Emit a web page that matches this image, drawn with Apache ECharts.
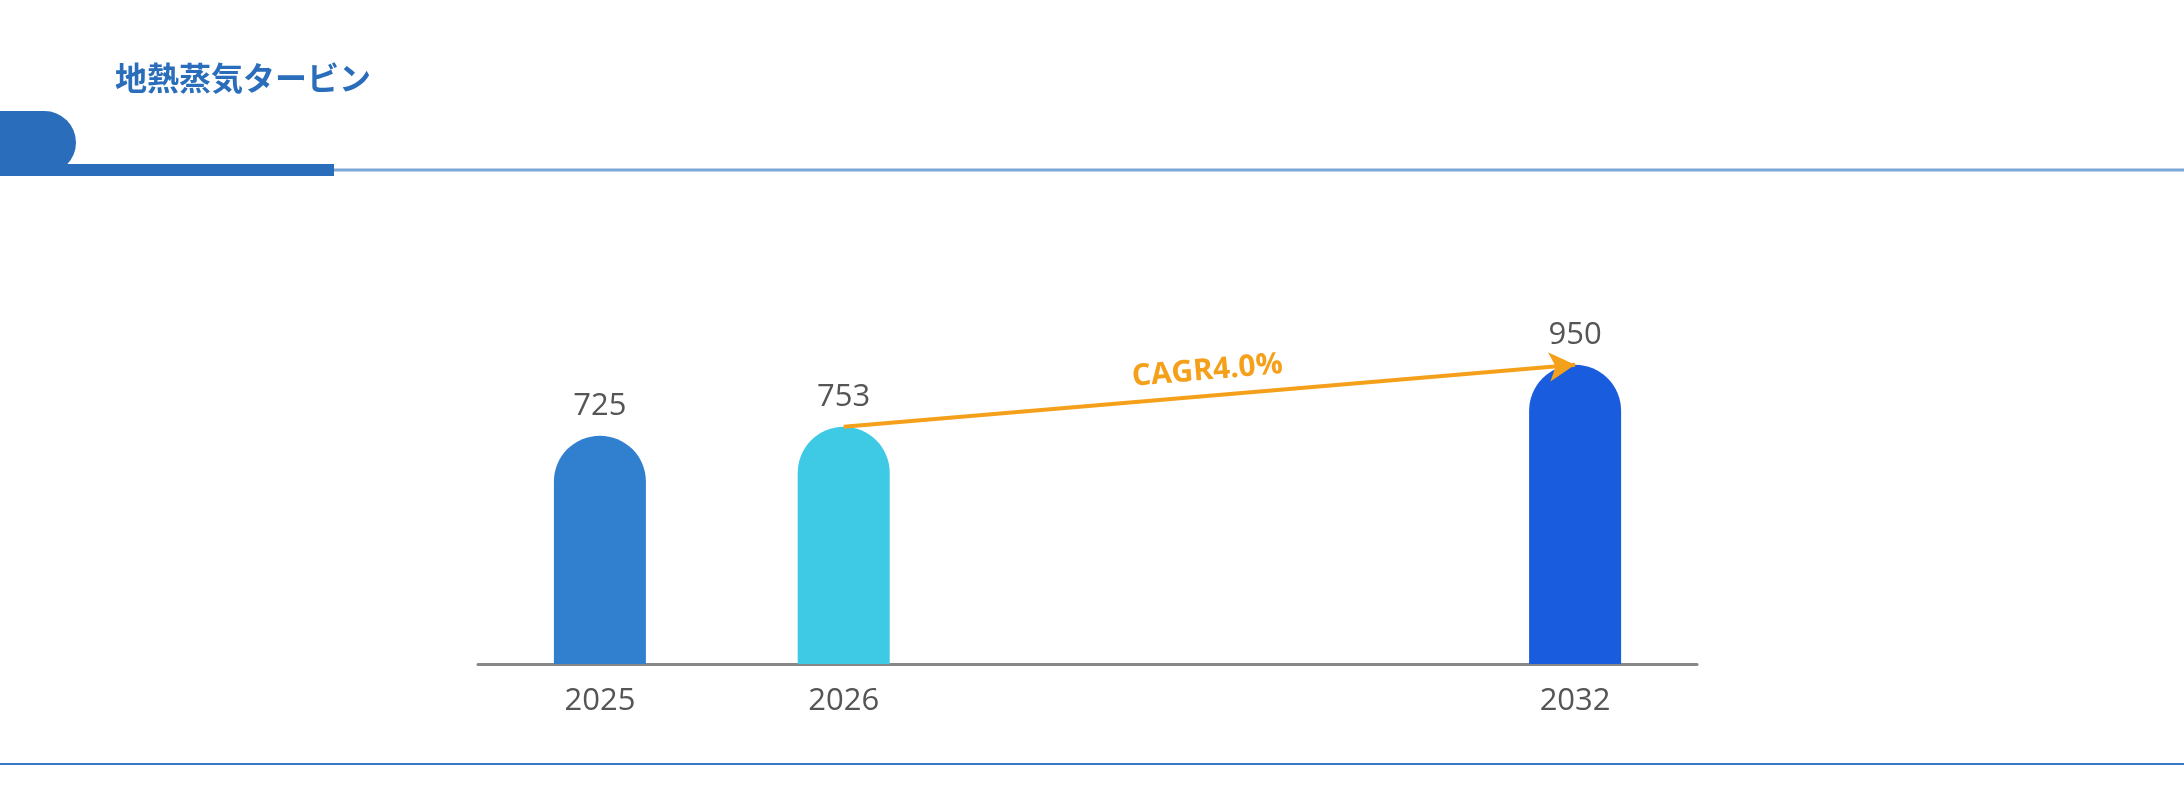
<!DOCTYPE html>
<html>
<head>
<meta charset="utf-8">
<script src="https://cdn.jsdelivr.net/npm/echarts@6/dist/echarts.min.js"></script>
<style>html,body{margin:0;padding:0;background:#fff}#main{width:2184px;height:791px}</style>
</head>
<body>
<div id="main"></div>
<script>
var titleText = '地熱蒸気タービン';
var years = ['2025', '2026', '', '', '2032'];
var values = [725, 753, null, null, 950];
var barColors = ['#3180d0', '#3ec9e5', null, null, '#1a5cde'];
var cagrText = 'CAGR4.0%';

var myChart = echarts.init(document.getElementById('main'));
var option = {
    backgroundColor: '#FFFFFF',
    animation: false,
    graphic: [
        { type: 'text', left: 115, top: 62, style: { text: titleText, fill: '#2a6ebb', font: 'bold 32px "Noto Sans CJK JP"' } },
        { type: 'rect', shape: { x: 0, y: 111, width: 76, height: 63, r: [0, 32, 32, 0] }, style: { fill: '#2a6ebb' } },
        { type: 'rect', shape: { x: 0, y: 164, width: 334, height: 12 }, style: { fill: '#2a6ebb' } },
        { type: 'line', shape: { x1: 334, y1: 170, x2: 2184, y2: 170 }, style: { stroke: '#7aa6d8', lineWidth: 3 } },
        { type: 'line', shape: { x1: 0, y1: 764, x2: 2184, y2: 764 }, style: { stroke: '#3a78c8', lineWidth: 2 } }
    ],
    grid: { left: 478, right: 487, top: 349, bottom: 127 },
    xAxis: {
        type: 'category',
        data: years,
        axisLine: { lineStyle: { color: '#888', width: 3 } },
        axisTick: { show: false },
        axisLabel: { color: '#555', fontSize: 31, margin: 22, fontFamily: 'Open Sans' }
    },
    yAxis: { type: 'value', min: 0, max: 1000, show: false, splitLine: { show: false } },
    series: [{
        type: 'bar',
        barWidth: 92,
        data: values.map(function (v, i) {
            return { value: v, itemStyle: { color: barColors[i], borderRadius: [46, 46, 0, 0] } };
        }),
        label: { show: true, position: 'top', distance: 14, color: '#555', fontSize: 31, fontFamily: 'Open Sans' },
        markLine: {
            silent: true,
            symbol: ['none', 'arrow'],
            symbolSize: [22, 26],
            lineStyle: { color: '#f5a01a', width: 4, type: 'solid' },
            label: { show: true, position: 'middle', formatter: cagrText, color: '#f5a01a', fontSize: 30, fontWeight: 'bold', fontFamily: 'Open Sans', distance: 10 },
            data: [[{ coord: [1, 753] }, { coord: [4, 950] }]]
        }
    }]
};
myChart.setOption(option);
</script>
</body>
</html>
